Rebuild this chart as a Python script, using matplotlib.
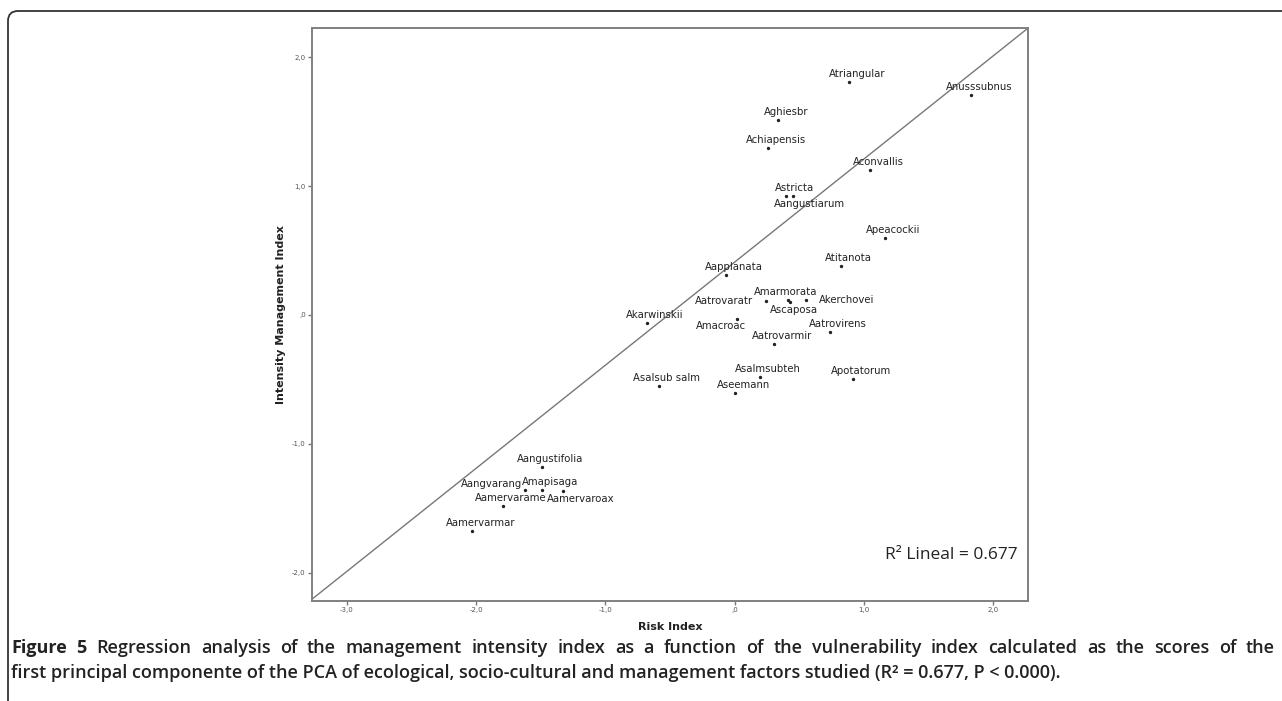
import matplotlib
matplotlib.use("Agg")
import matplotlib.pyplot as plt
from matplotlib.patches import FancyBboxPatch
from matplotlib.transforms import IdentityTransform

# species scores
species = [
    "Atriangular", "Anusssubnus", "Aghiesbr", "Achiapensis", "Aconvallis",
    "Astricta", "Aangustiarum", "Apeacockii", "Atitanota", "Aapplanata",
    "Aatrovaratr", "Amarmorata", "Ascaposa", "Akerchovei", "Amacroac",
    "Akarwinskii", "Aatrovirens", "Aatrovarmir", "Asalmsubteh", "Apotatorum",
    "Asalsub salm", "Aseemann", "Aangustifolia", "Aangvarang", "Amapisaga",
    "Aamervaroax", "Aamervarame", "Aamervarmar",
]
risk_index = [
    0.886, 1.829, 0.336, 0.258, 1.047,
    0.400, 0.452, 1.163, 0.822, -0.070,
    0.245, 0.413, 0.432, 0.556, 0.018,
    -0.680, 0.736, 0.305, 0.199, 0.917,
    -0.587, 0.005, -1.491, -1.620, -1.491,
    -1.326, -1.796, -2.029,
]
management_index = [
    1.807, 1.710, 1.514, 1.299, 1.126,
    0.926, 0.926, 0.595, 0.380, 0.311,
    0.111, 0.116, 0.098, 0.116, -0.034,
    -0.060, -0.135, -0.228, -0.484, -0.500,
    -0.551, -0.608, -1.183, -1.359, -1.359,
    -1.364, -1.483, -1.675,
]
fit_intercept = 0.41
fit_slope = 0.80
r_squared = "0.677"

x_ticks = [-3, -2, -1, 0, 1, 2]
x_tick_labels = ["-3,0", "-2,0", "-1,0", ",0", "1,0", "2,0"]
y_ticks = [-2, -1, 0, 1, 2]
y_tick_labels = ["-2,0", "-1,0", ",0", "1,0", "2,0"]

caption_bold = "Figure 5"
caption_line1 = ("Regression analysis of the management intensity index as a function "
                 "of the vulnerability index calculated as the scores of the")
caption_line2 = ("first principal componente of the PCA of ecological, socio-cultural "
                 "and management factors studied (R\u00b2 = 0.677, P < 0.000).")

# label placement relative to the dot, in pixels (default up-right)
label_offsets = {
    "Aangustiarum": (16, -8),
    "Aatrovaratr": (-42, 0),
    "Amarmorata": (-2, 8),
    "Akerchovei": (40, 0),
    "Ascaposa": (4, -8),
    "Amacroac": (-16, -7),
    "Aangvarang": (-34, 6),
    "Aamervaroax": (17, -8),
}

W, H = 1282, 701
fig = plt.figure(figsize=(W / 100, H / 100), dpi=100)
fig.patch.set_facecolor("white")

frame = FancyBboxPatch((8, -60), 1400, 750, boxstyle="round,pad=0,rounding_size=10",
                       transform=IdentityTransform(), facecolor="none",
                       edgecolor="#333333", linewidth=1.3, clip_on=False)
fig.patches.append(frame)

ax = fig.add_axes([312 / W, 1 - 601 / H, 716 / W, 573 / H])
ax.set_xlim(-3.27, 2.27)
ax.set_ylim(-2.22, 2.227)

ax.axline((0, fit_intercept), slope=fit_slope, color="#777777", linewidth=1.0)
ax.scatter(risk_index, management_index, s=2, color="#222222", zorder=3)
for name, x, y in zip(species, risk_index, management_index):
    dx, dy = label_offsets.get(name, (8, 8))
    ax.annotate(name, (x, y), xytext=(dx, dy), textcoords="offset pixels",
                ha="center", va="center", fontsize=7.3, color="#222222",
                family="DejaVu Sans")

ax.text(0.986, 0.081, f"R\u00b2 Lineal = {r_squared}", transform=ax.transAxes,
        ha="right", va="center", fontsize=12.5, family="Open Sans", color="#222222")

ax.set_xticks(x_ticks, x_tick_labels)
ax.set_yticks(y_ticks, y_tick_labels)
ax.tick_params(length=3, width=1.0, color="#777777", labelsize=5, labelcolor="#555555", pad=1.5)
for spine in ax.spines.values():
    spine.set_color("#808080")
    spine.set_linewidth(1.4)

ax.set_xlabel("Risk Index", fontsize=8, fontweight="bold", color="#222222", labelpad=6)
ax.set_ylabel("Intensity Management Index", fontsize=8, fontweight="bold",
              color="#222222", labelpad=4)

# caption: first line justified between the frame edges, second line ragged
renderer = fig.canvas.get_renderer()
cap_size = 13.0
left_px, right_px = 11, 1275
words = [(w, "bold") for w in caption_bold.split()] + \
        [(w, "semibold") for w in caption_line1.split()]
texts = [fig.text(0, 1 - 648 / H, w, fontsize=cap_size, fontweight=wt,
                  family="Open Sans", va="center", color="#222222") for w, wt in words]
widths = [t.get_window_extent(renderer).width for t in texts]
gap = (right_px - left_px - sum(widths)) / (len(texts) - 1)
pos = left_px
for t, wd in zip(texts, widths):
    t.set_x(pos / W)
    pos += wd + gap
fig.text(left_px / W, 1 - 673 / H, caption_line2, fontsize=cap_size, fontweight="semibold",
         family="Open Sans", va="center", color="#222222")

fig.savefig("out.png", dpi=100)
